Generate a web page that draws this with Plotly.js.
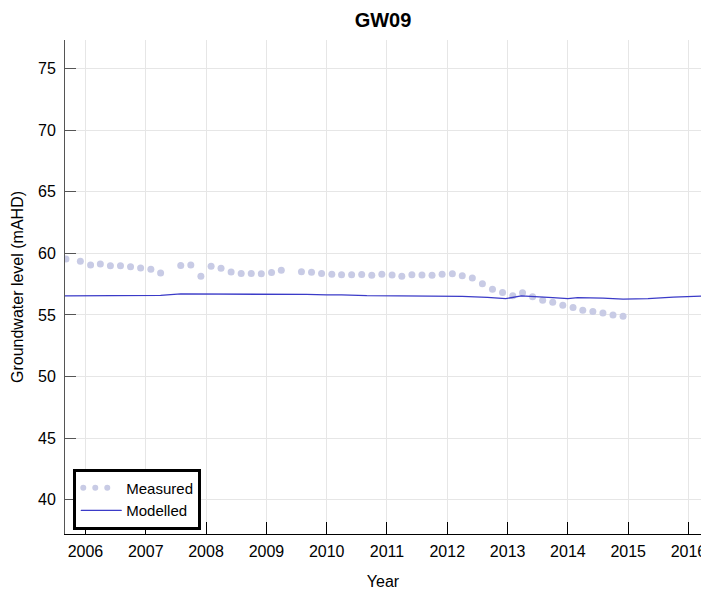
<!DOCTYPE html>
<html>
<head>
<meta charset="utf-8">
<script src="https://cdn.plot.ly/plotly-3.0.1.min.js"></script>
<style>
  html, body { margin: 0; padding: 0; background: #fff; }
  #chart { width: 701px; height: 590px; }
  .legendlines path { stroke-linecap: round; stroke-dashoffset: -2px; }
</style>
</head>
<body>
<div id="chart"></div>
<script>
// Measured groundwater level (mAHD)
var measuredDates = [
  '2005-09-05','2005-12-01',
  '2006-02-01','2006-04-01','2006-06-01','2006-08-01','2006-10-01','2006-12-01',
  '2007-02-01','2007-04-01','2007-08-01','2007-10-01','2007-12-01',
  '2008-02-01','2008-04-01','2008-06-01','2008-08-01','2008-10-01','2008-12-01',
  '2009-02-01','2009-04-01','2009-08-01','2009-10-01','2009-12-01',
  '2010-02-01','2010-04-01','2010-06-01','2010-08-01','2010-10-01','2010-12-01',
  '2011-02-01','2011-04-01','2011-06-01','2011-08-01','2011-10-01','2011-12-01',
  '2012-02-01','2012-04-01','2012-06-01','2012-08-01','2012-10-01','2012-12-01',
  '2013-02-01','2013-04-01','2013-06-01','2013-08-01','2013-10-01','2013-12-01',
  '2014-02-01','2014-04-01','2014-06-01','2014-08-01','2014-10-01','2014-12-01'
];
var measuredLevels = [
  59.54, 59.35,
  59.05, 59.13, 58.99, 58.99, 58.91, 58.80,
  58.70, 58.40, 59.00, 59.05, 58.13,
  58.94, 58.78, 58.48, 58.37, 58.37, 58.34,
  58.45, 58.62, 58.50, 58.47, 58.36,
  58.29, 58.26, 58.26, 58.27, 58.22, 58.29,
  58.23, 58.13, 58.26, 58.23, 58.21, 58.29,
  58.34, 58.18, 57.99, 57.52, 57.09, 56.82,
  56.55, 56.79, 56.47, 56.20, 56.03, 55.79,
  55.60, 55.38, 55.27, 55.16, 54.99, 54.89
];

// Modelled groundwater level (mAHD)
var modelledDates = [
  '2005-08-15','2006-01-01','2006-06-01','2007-01-01','2007-04-01','2007-08-01',
  '2008-01-01','2008-06-01','2009-01-01','2009-04-01','2009-09-01','2010-01-01',
  '2010-04-01','2010-09-01','2011-01-01','2011-06-01','2012-01-01','2012-04-01',
  '2012-09-01','2012-11-01','2012-12-20','2013-03-25','2013-07-01','2013-10-01',
  '2014-01-01','2014-03-01','2014-08-01','2014-12-01','2015-05-01','2015-10-01',
  '2016-04-01'
];
var modelledLevels = [
  56.55, 56.55, 56.53, 56.53, 56.58, 56.70,
  56.70, 56.65, 56.64, 56.68, 56.66, 56.63,
  56.63, 56.56, 56.56, 56.52, 56.52, 56.50,
  56.42, 56.35, 56.32, 56.55, 56.45, 56.40,
  56.33, 56.40, 56.36, 56.28, 56.32, 56.45,
  56.53
];

var chartTitle = 'GW09';
var xTitle = 'Year';
var yTitle = 'Groundwater level (mAHD)';
var seriesNames = ['Measured', 'Modelled'];

var FONT = 'Liberation Sans, Arial, sans-serif';
var measuredColor = '#c8cbe5';
var modelledColor = '#3b3bc8';

var traces = [
  { // legend entry for measured (three-dot symbol)
    x: [null], y: [null], type: 'scatter', mode: 'lines',
    name: seriesNames[0],
    line: { color: measuredColor, width: 6, dash: '0px,12px,0px,12px,0px,100px' },
    hoverinfo: 'skip'
  },
  {
    x: measuredDates, y: measuredLevels, type: 'scatter', mode: 'markers',
    name: seriesNames[0], showlegend: false,
    marker: { color: measuredColor, size: 7 },
    cliponaxis: true
  },
  {
    x: modelledDates, y: modelledLevels, type: 'scatter', mode: 'lines',
    name: seriesNames[1],
    line: { color: modelledColor, width: 1.3 }
  }
];

var layout = {
  width: 701, height: 590,
  paper_bgcolor: '#ffffff', plot_bgcolor: '#ffffff',
  margin: { l: 65, r: 0, t: 40, b: 56, pad: 0 },
  font: { family: FONT, size: 16, color: '#000' },
  title: {
    text: '<b>' + chartTitle + '</b>',
    font: { family: FONT, size: 20, color: '#000' },
    x: 0.5, xref: 'paper', xanchor: 'center',
    y: 0.966, yref: 'container', yanchor: 'middle'
  },
  showlegend: true,
  legend: {
    x: 0.013, y: 0.009, xanchor: 'left', yanchor: 'bottom',
    bgcolor: '#ffffff', bordercolor: '#000000', borderwidth: 3,
    font: { family: FONT, size: 15, color: '#000' },
    itemwidth: 40,
    traceorder: 'normal'
  },
  xaxis: {
    type: 'date',
    range: ['2005-08-30', '2016-03-17'],
    tickformat: '%Y', dtick: 'M12', tick0: '2006-01-01',
    ticks: 'inside', ticklen: 12, tickwidth: 1, tickcolor: '#000',
    ticklabelstandoff: 2, ticklabeloverflow: 'allow',
    showline: true, linecolor: '#000', linewidth: 1.3,
    showgrid: true, gridcolor: '#e6e6e6', gridwidth: 1,
    zeroline: false,
    tickfont: { family: FONT, size: 16, color: '#000' },
    title: { text: xTitle, font: { family: FONT, size: 16, color: '#000' } }
  },
  yaxis: {
    range: [37.23, 77.3],
    dtick: 5, tick0: 0,
    ticks: 'inside', ticklen: 11, tickwidth: 1, tickcolor: '#555',
    ticksuffix: '\u00a0',
    showline: true, linecolor: '#555', linewidth: 1.5,
    showgrid: true, gridcolor: '#e6e6e6', gridwidth: 1,
    zeroline: false,
    tickfont: { family: FONT, size: 16, color: '#000' },
    title: { text: yTitle, font: { family: FONT, size: 16, color: '#000' } }
  }
};

Plotly.newPlot('chart', traces, layout, { displayModeBar: false, staticPlot: true });
</script>
</body>
</html>
